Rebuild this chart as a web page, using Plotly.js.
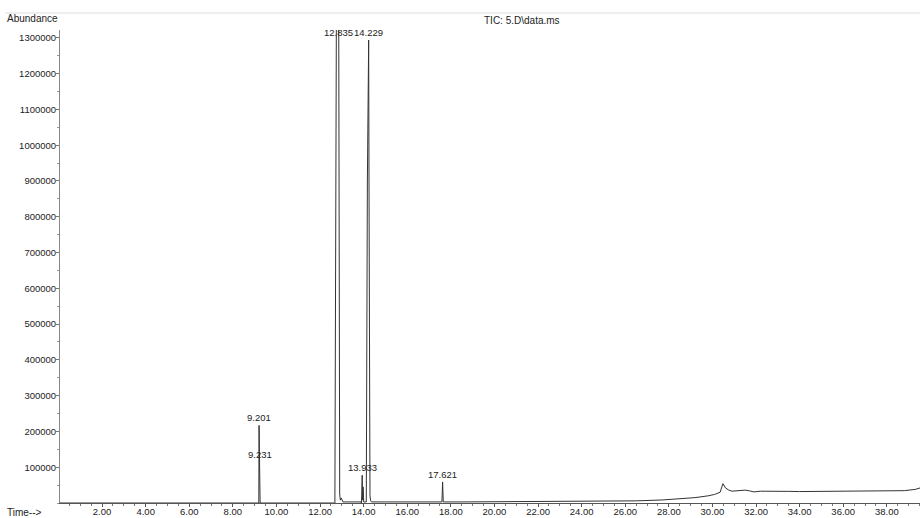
<!DOCTYPE html>
<html>
<head>
<meta charset="utf-8">
<script src="https://cdn.plot.ly/plotly-3.0.1.min.js"></script>
<style>
html,body{margin:0;padding:0;background:#fff;}
#chart{width:920px;height:518px;}
</style>
</head>
<body>
<div id="chart"></div>
<script>
// Retention time (min) and abundance
const timeMin = [
  0.07, 9.15, 9.19, 9.201, 9.215, 9.231, 9.25, 12.68,
  12.70, 12.73, 12.76, 12.835, 12.85, 12.87, 12.90, 12.93,
  12.97, 13.05, 13.50, 13.88, 13.90, 13.933, 13.95, 13.975,
  14.00, 14.12, 14.17, 14.229, 14.245, 14.26, 14.29, 14.32,
  14.36, 15.00, 16.00, 17.00, 17.59, 17.621, 17.65, 18.50,
  20.00, 22.00, 24.00, 25.00, 25.50, 26.50, 27.70, 28.50,
  29.20, 29.80, 30.10, 30.35, 30.48, 30.60, 30.75, 30.90,
  31.20, 31.50, 31.70, 31.90, 32.20, 32.80, 33.50, 34.00,
  35.00, 36.00, 37.00, 38.00, 38.80, 39.30, 39.52
];
const abundance = [
  0, 0, 0, 217000, 30000, 120000, 0, 0,
  500000, 1250000, 1600000, 2000000, 1400000, 300000, 25000, 8000,
  14000, 3000, 3000, 3000, 0, 77600, 8000, 45000,
  3000, 3000, 900000, 1294000, 900000, 250000, 20000, 6000,
  3000, 3000, 3000, 3000, 3000, 58900, 3000, 3000,
  3500, 3500, 3500, 4000, 4500, 6000, 8500, 11000,
  15000, 20000, 24000, 30000, 54000, 42000, 36000, 33000,
  34000, 36000, 34000, 31000, 33000, 33500, 32500, 32000,
  32500, 34000, 34500, 33500, 34500, 38000, 42000
];

// Labelled peaks
const peakTimes  = [9.201, 9.231, 12.835, 14.229, 13.933, 17.621];
const peakLabels = ["9.201", "9.231", "12.835", "14.229", "13.933", "17.621"];
const peakLabelY = [217000, 115000, 1322000, 1294000, 77600, 58900];

// Axis ticks
const xTickVals = [2, 4, 6, 8, 10, 12, 14, 16, 18, 20, 22, 24, 26, 28, 30, 32, 34, 36, 38];
const yTickVals = [100000, 200000, 300000, 400000, 500000, 600000, 700000,
                   800000, 900000, 1000000, 1100000, 1200000, 1300000];

const FONT = "Liberation Sans, Arial, sans-serif";
const TXT = "#222";

const trace = {
  x: timeMin,
  y: abundance,
  type: "scatter",
  mode: "lines",
  line: {color: "#333", width: 1},
  hoverinfo: "x+y"
};

const annotations = peakTimes.map((t, i) => ({
  x: t, y: peakLabelY[i], xref: "x", yref: "y",
  text: peakLabels[i], showarrow: false,
  xanchor: "center",
  yanchor: i === 2 ? "middle" : "bottom",
  yshift: i === 2 ? -2 : 0,
  font: {family: FONT, size: 9.5, color: TXT}
}));

annotations.push({
  x: -0.0645, y: 1.0, xref: "paper", yref: "paper",
  text: "Abundance", showarrow: false, xanchor: "left", yanchor: "bottom",
  yshift: 4,
  font: {family: FONT, size: 10, color: TXT}
});
annotations.push({
  x: -0.0645, y: 0, xref: "paper", yref: "paper",
  text: "Time-->", showarrow: false, xanchor: "left", yanchor: "top",
  yshift: -2,
  font: {family: FONT, size: 10, color: TXT}
});

const layout = {
  width: 920, height: 518,
  margin: {l: 60, r: 0, t: 30, b: 15},
  paper_bgcolor: "#fff",
  plot_bgcolor: "#fff",
  showlegend: false,
  title: {
    text: "TIC: 5.D\\data.ms",
    xref: "paper", x: 0.537, xanchor: "center",
    yref: "container", y: 0.961, yanchor: "middle",
    font: {family: FONT, size: 10, color: TXT}
  },
  xaxis: {
    range: [0.07, 39.52],
    tickmode: "array",
    tickvals: xTickVals,
    ticktext: xTickVals.map(v => v.toFixed(2)),
    ticks: "outside", ticklen: 3, tickcolor: "#555", tickwidth: 1,
    ticklabelstandoff: -3,
    minor: {tick0: 0, dtick: 0.5, ticks: "outside", ticklen: 2, tickcolor: "#777"},
    showline: true, linecolor: "#555", linewidth: 1,
    showgrid: false, zeroline: false,
    tickfont: {family: FONT, size: 9.5, color: TXT},
    fixedrange: true
  },
  yaxis: {
    range: [0, 1322000],
    tickmode: "array",
    tickvals: yTickVals,
    ticktext: yTickVals.map(v => String(v)),
    ticks: "outside", ticklen: 3, tickcolor: "#777", tickwidth: 1,
    ticklabelstandoff: -2,
    minor: {tick0: 0, dtick: 50000, ticks: "outside", ticklen: 2, tickcolor: "#999"},
    showline: true, linecolor: "#888", linewidth: 1,
    showgrid: false, zeroline: false,
    tickfont: {family: FONT, size: 9.5, color: TXT},
    fixedrange: true
  },
  shapes: [{
    type: "line", xref: "paper", yref: "paper",
    x0: -0.064, x1: 1, y0: 1.036, y1: 1.036,
    line: {color: "#ddd", width: 1}
  }],
  annotations: annotations
};

Plotly.newPlot("chart", [trace], layout, {displayModeBar: false, staticPlot: true});
</script>
</body>
</html>
